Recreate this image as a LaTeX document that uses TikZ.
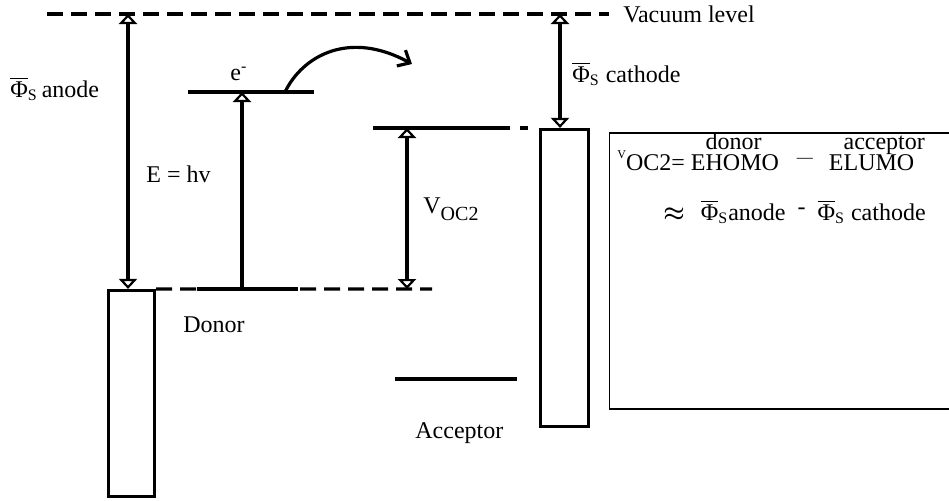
\documentclass[tikz,border=0pt]{standalone}
\usepackage{fontspec}
\setmainfont{Liberation Serif}
\usepackage{tikz}
\usetikzlibrary{arrows.meta}
\usetikzlibrary{positioning}

\newcommand{\phis}{$\overline{\mbox{Φ}}$\textsubscript{S}}
\newcommand{\lvl}[2]{\rlap{\raisebox{10.5pt}{#1}}#2}

\begin{document}
\begin{tikzpicture}[
  x=0.5pt, y=-0.5pt,
  font=\fontsize{12}{14}\selectfont,
  >={Triangle[open, length=5pt, width=9pt, line width=1.1pt]},
  level/.style={line width=1.6pt},
  dashlevel/.style={line width=1.6pt, dash pattern=on 8pt off 4pt},
  box/.style={draw, line width=1.6pt, inner sep=0pt},
  lbl/.style={inner sep=0pt, anchor=base west}
]
\useasboundingbox (0,0) rectangle (949,500);

% electrodes
\node[box, minimum width=23pt, minimum height=103pt] (anode) at (131.5,393.5) {};
\node[box, minimum width=24pt, minimum height=148.5pt] (cathode) at (564.5,278) {};

% vacuum level
\coordinate (vacL) at (47,14);
\node[lbl] (vac) at (623,22) {Vacuum level};
\draw[dashlevel, shorten >=7pt] (vacL) -- (vacL -| vac.west);

% donor levels
\coordinate (lumoD1) at (188,92);
\coordinate (lumoD2) at (314,92);
\coordinate (homoD1) at (197,289);
\coordinate (homoD2) at (298,289);
\coordinate (homoDx) at (242,289);
\coordinate (homoDend) at (432,289);
\draw[dashlevel] (anode.north east) -- (homoDend);
\draw[level] (homoD1) -- (homoD2);
\draw[level] (lumoD1) -- (lumoD2);
\draw[level, ->] (homoDx) -- (homoDx |- lumoD1);

% electron hop
\coordinate (hopStart) at (285,92);
\coordinate (hopEnd) at (412,64);
\draw[level, -{Straight Barb[length=5pt, width=9pt]}] (hopStart) .. controls (303,55) and (350,30) .. (hopEnd);

% acceptor levels
\coordinate (lumoA1) at (373,128);
\coordinate (lumoA2) at (510,128);
\coordinate (lumoA3) at (520,128);
\coordinate (homoA1) at (395,379);
\coordinate (homoA2) at (517,379);
\draw[level] (lumoA1) -- (lumoA2);
\draw[level, shorten >=5.5pt] (lumoA3) -- (lumoA3 -| cathode.west);
\draw[level] (homoA1) -- (homoA2);

% work functions and VOC
\coordinate (anodeTop) at (128,14);
\coordinate (cathTop) at (560,14);
\coordinate (voc) at (407,128);
\draw[level, <->] (anodeTop) -- (anodeTop |- anode.north);
\draw[level, <->] (cathTop) -- (cathTop |- cathode.north);
\draw[level, <->] (voc) -- (voc |- homoDend);

% labels
\node[lbl] (anodelbl) at (10,97) {\phis\,anode};
\node[lbl] (cathlbl) at (572,82) {\phis\ cathode};
\node[lbl] (elec) at (230,80) {e\textsuperscript{-}};
\node[lbl] (ehv) at (146,182) {E = hv};
\node[lbl] (donor) at (183,332) {Donor};
\node[lbl] (voclbl) at (423,213) {V\raisebox{-3.5pt}{\fontsize{10}{11}\selectfont OC2}};
\node[lbl] (acc) at (415,438) {Acceptor};

% equation box
\coordinate (eqNE) at (949,133);
\coordinate (eqNW) at (609.5,133);
\coordinate (eqSW) at (609.5,409);
\coordinate (eqSE) at (949,409);
\draw[line width=0.6pt] (eqNE) -- (eqNW) -- (eqSW) -- (eqSE);
\node[lbl] (eq1) at (617,170) {\raisebox{6pt}{\fontsize{6}{7}\selectfont V}OC2= E\lvl{donor}{HOMO}\hspace{9pt}{\fontsize{8}{8}\selectfont\raisebox{4pt}{—}}\hspace{8pt}E\lvl{acceptor}{LUMO}};
\node[lbl] (eq2) at (663,220) {{\boldmath$\approx$}\hspace{8pt}\phis anode\hspace{6pt}\raisebox{3pt}{-}\hspace{6pt}\phis\ cathode};
\end{tikzpicture}
\end{document}
